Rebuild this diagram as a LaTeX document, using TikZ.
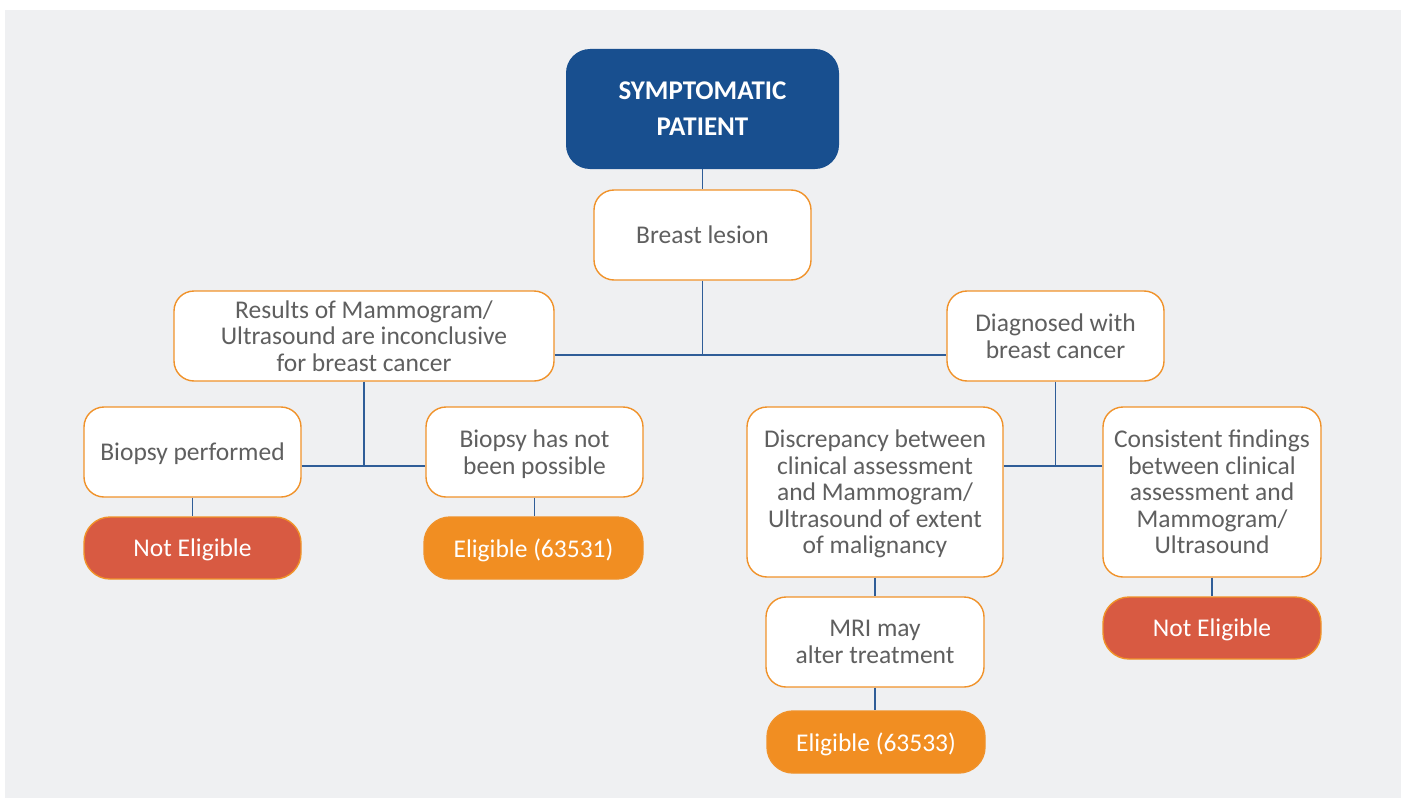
\documentclass[tikz,border=0pt]{standalone}
\usepackage{fontspec}
\setmainfont{Carlito}
\definecolor{bgGray}{HTML}{EFF0F2}
\definecolor{navyBox}{HTML}{184F8F}
\definecolor{lineBlue}{HTML}{2F5D98}
\definecolor{edgeOrange}{HTML}{F0922A}
\definecolor{fillOrange}{HTML}{F18E22}
\definecolor{fillRed}{HTML}{D85A42}
\definecolor{textGray}{HTML}{5F5F5F}

\begin{document}
\begin{tikzpicture}
[x=1pt,y=-1pt,
  boxDecorate/.style={shape=rectangle,rounded corners=20pt,draw=edgeOrange,line width=1.4pt,
    fill=white,text=textGray,align=center,inner sep=0pt,text depth=-3pt,
    font=\fontsize{25.5}{26.5}\selectfont},
  titleDecorate/.style={shape=rectangle,rounded corners=24pt,fill=navyBox,text=white,
    align=center,inner sep=0pt,minimum width=273pt,minimum height=120pt,text depth=-3pt,
    font=\fontsize{27}{36}\selectfont\bfseries},
  yesDecorate/.style={boxDecorate,fill=fillOrange,text=white,minimum width=219pt,
    minimum height=62pt,rounded corners=26pt},
  noDecorate/.style={boxDecorate,fill=fillRed,text=white,minimum width=217pt,
    minimum height=62pt,rounded corners=26pt},
  lineDecorate/.style={-,draw=lineBlue,line width=1.6pt}]
\useasboundingbox (0,0) rectangle (1405,800);
\fill[bgGray] (5,10) rectangle (1401,798);
%% nodes
\node (patient) at (702.5,109) [titleDecorate] {SYMPTOMATIC\\PATIENT};
\node (lesion) at (702.5,235) [boxDecorate,minimum width=217pt,minimum height=90pt]
  {Breast lesion};
\node (results) at (364,336) [boxDecorate,minimum width=380pt,minimum height=90pt]
  {Results of Mammogram/\\Ultrasound are inconclusive\\for breast cancer};
\node (diagnosed) at (1055.5,336) [boxDecorate,minimum width=217pt,minimum height=90pt]
  {Diagnosed with\\breast cancer};
\node (biopsyDone) at (192.5,452) [boxDecorate,minimum width=217pt,minimum height=90pt]
  {Biopsy performed};
\node (biopsyNot) at (534.5,452) [boxDecorate,minimum width=217pt,minimum height=90pt]
  {Biopsy has not\\been possible};
\node (discrepancy) at (875,492) [boxDecorate,minimum width=256pt,minimum height=170pt]
  {Discrepancy between\\clinical assessment\\and Mammogram/\\Ultrasound of extent\\of malignancy};
\node (consistent) at (1212,492) [boxDecorate,minimum width=218pt,minimum height=170pt]
  {Consistent findings\\between clinical\\assessment and\\Mammogram/\\Ultrasound};
\node (mri) at (875,642) [boxDecorate,minimum width=218pt,minimum height=90pt]
  {MRI may\\alter treatment};
\node (notLeft) at (192.5,548) [noDecorate] {Not Eligible};
\node (yesLeft) at (533.5,548) [yesDecorate] {Eligible (63531)};
\node (yesMri) at (876,742) [yesDecorate,minimum width=218pt] {Eligible (63533)};
\node (notRight) at (1212,628) [noDecorate,minimum width=218pt] {Not Eligible};
%% junctions
\coordinate (midJoin) at (702.5,355);
\coordinate (leftJoin) at (364,466);
\coordinate (rightJoin) at (1055.5,466);
%% edges or lines
\draw[lineDecorate] (patient.south) -- (lesion.north);
\draw[lineDecorate] (lesion.south) -- (midJoin);
\draw[lineDecorate] (results.east |- midJoin) -- (diagnosed.west |- midJoin);
\draw[lineDecorate] (results.south) -- (leftJoin);
\draw[lineDecorate] (biopsyDone.east |- leftJoin) -- (biopsyNot.west |- leftJoin);
\draw[lineDecorate] (diagnosed.south) -- (rightJoin);
\draw[lineDecorate] (discrepancy.east |- rightJoin) -- (consistent.west |- rightJoin);
\foreach \startnode/\endnode in {biopsyDone/notLeft, discrepancy/mri, consistent/notRight} {
  \draw[lineDecorate] (\startnode.south) -- (\endnode.north);
}
\draw[lineDecorate] (biopsyNot.south) -- (biopsyNot.south |- yesLeft.north);
\draw[lineDecorate] (mri.south) -- (mri.south |- yesMri.north);
\end{tikzpicture}
\end{document}
